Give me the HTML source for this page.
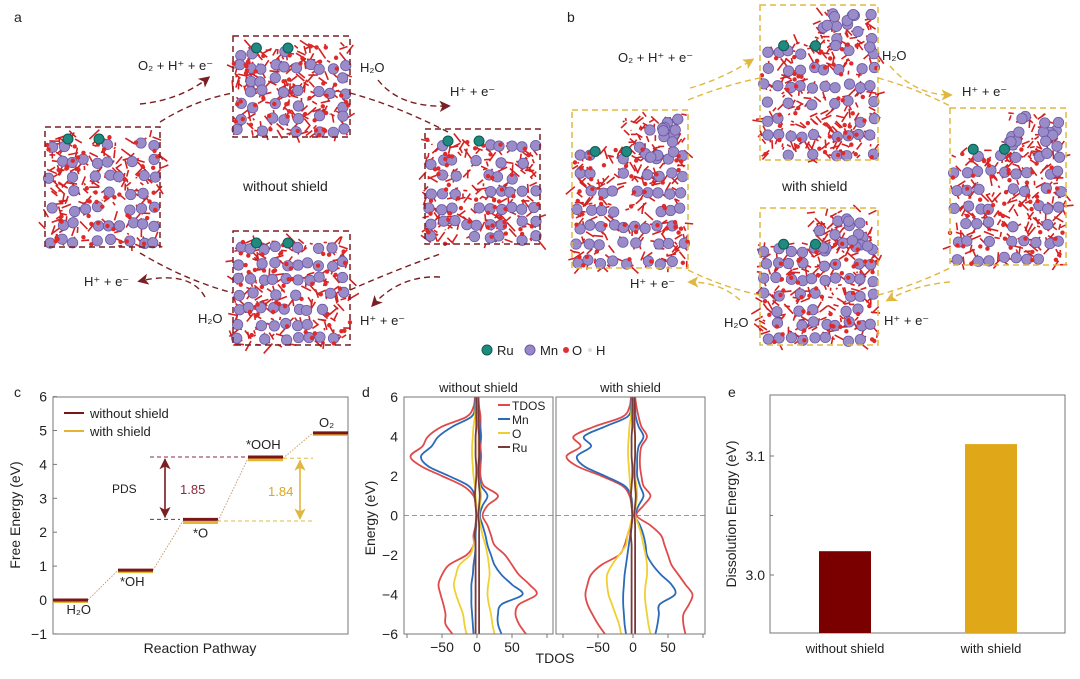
<!DOCTYPE html>
<html><head><meta charset="utf-8"><style>
body{margin:0;background:#fff}
svg text{font-family:"Liberation Sans",Arial,sans-serif;fill:#222}
</style></head><body>
<svg id="fig" width="1080" height="674" viewBox="0 0 1080 674" xmlns="http://www.w3.org/2000/svg">
<defs>
<marker id="arR" markerWidth="8" markerHeight="8" refX="6" refY="4" orient="auto"><path d="M0,0 L8,4 L0,8 L2,4z" fill="#7a1f22"/></marker>
<marker id="arY" markerWidth="8" markerHeight="8" refX="6" refY="4" orient="auto"><path d="M0,0 L8,4 L0,8 L2,4z" fill="#e0b840"/></marker>
</defs>
<g id="structs"></g>
<g font-size="13">
<text x="14" y="22" font-size="14">a</text>
<text x="138" y="70">O₂ + H⁺ + e⁻</text>
<text x="360" y="72">H₂O</text>
<text x="450" y="96">H⁺ + e⁻</text>
<text x="243" y="191" font-size="14">without shield</text>
<text x="84" y="286">H⁺ + e⁻</text>
<text x="198" y="323">H₂O</text>
<text x="360" y="325">H⁺ + e⁻</text>
<text x="567" y="22" font-size="14">b</text>
<text x="618" y="62">O₂ + H⁺ + e⁻</text>
<text x="882" y="60">H₂O</text>
<text x="962" y="96">H⁺ + e⁻</text>
<text x="782" y="191" font-size="14">with shield</text>
<text x="630" y="288">H⁺ + e⁻</text>
<text x="724" y="327">H₂O</text>
<text x="884" y="325">H⁺ + e⁻</text>
</g>
<g fill="none" stroke-width="1.4" stroke-dasharray="6,4">
<path d="M160,122 Q195,100 233,93" stroke="#7a1f22"/>
<path d="M140,104 Q180,100 208,78" stroke="#7a1f22" marker-end="url(#arR)"/>
<path d="M350,93 Q395,105 448,132" stroke="#7a1f22"/>
<path d="M378,80 Q400,108 448,106" stroke="#7a1f22" marker-end="url(#arR)"/>
<path d="M140,253 Q185,280 233,293" stroke="#7a1f22"/>
<path d="M205,297 Q190,270 140,281" stroke="#7a1f22" marker-end="url(#arR)"/>
<path d="M350,290 Q395,270 443,253" stroke="#7a1f22"/>
<path d="M440,277 Q400,275 373,305" stroke="#7a1f22" marker-end="url(#arR)"/>
<path d="M688,100 Q725,85 760,78" stroke="#e0b840"/>
<path d="M690,88 Q720,80 752,60" stroke="#e0b840" marker-end="url(#arY)"/>
<path d="M878,78 Q915,88 950,106" stroke="#e0b840"/>
<path d="M890,66 Q915,95 950,95" stroke="#e0b840" marker-end="url(#arY)"/>
<path d="M688,270 Q725,288 760,295" stroke="#e0b840"/>
<path d="M740,300 Q720,282 690,282" stroke="#e0b840" marker-end="url(#arY)"/>
<path d="M878,295 Q915,285 950,268" stroke="#e0b840"/>
<path d="M950,282 Q915,285 888,300" stroke="#e0b840" marker-end="url(#arY)"/>
</g>
<g font-size="13">
<circle cx="487" cy="350" r="5" fill="#1f8a80" stroke="#0d5a52"/><text x="497" y="355">Ru</text>
<circle cx="530" cy="350" r="5" fill="#9988c8" stroke="#6d5aa8"/><text x="540" y="355">Mn</text>
<circle cx="566" cy="350" r="3" fill="#e03030"/><text x="572" y="355">O</text>
<circle cx="590" cy="350" r="2" fill="#ddd"/><text x="596" y="355">H</text>
</g>
<g id="pc"></g>
<g id="pd"></g>
<g id="pe"></g>
</svg>
<script>
// ---- data ----
const stepLabels=["H₂O","*OH","*O","*OOH","O₂"];
const gWithout=[0,0.88,2.38,4.22,4.93];
const gWith=[0,0.88,2.33,4.18,4.93];
const pdsWithout="1.85", pdsWith="1.84";
const cYTicks=[-1,0,1,2,3,4,5,6];
const dosE=[6,5.5,5,4.5,4,3.5,3,2.5,2,1.5,1,0.5,0,-0.5,-1,-1.5,-2,-2.5,-3,-3.5,-4,-4.5,-5,-5.5,-6];
const woTdosN=[-3,-5,-15,-50,-70,-78,-95,-80,-50,-20,-5,-2,-1,-2,-5,-5,-15,-40,-50,-55,-52,-48,-45,-45,-35];
const woTdosP=[2,3,5,5,6,5,6,5,5,10,30,15,8,15,20,25,40,50,60,75,85,60,55,60,70];
const woMnN=[-2,-3,-8,-35,-55,-65,-80,-70,-40,-12,-3,-1,-1,-1,-2,-2,-3,-5,-6,-8,-8,-8,-7,-6,-5];
const woMnP=[1,2,3,4,5,3,4,3,3,6,15,8,4,8,12,15,20,25,35,50,65,35,30,30,35];
const woON=[-1,-2,-3,-5,-6,-7,-7,-6,-5,-3,-2,-1,-1,-2,-3,-5,-10,-25,-30,-33,-30,-25,-20,-18,-15];
const woOP=[1,1,2,2,2,2,2,2,2,4,6,4,3,5,8,12,15,17,18,16,15,17,20,22,25];
const wiTdosN=[-3,-5,-15,-55,-85,-75,-95,-80,-45,-15,-5,-2,-1,-3,-8,-12,-20,-45,-60,-65,-68,-65,-58,-50,-40];
const wiTdosP=[3,5,8,12,20,12,10,10,12,15,25,15,5,25,40,45,50,55,65,75,85,80,72,72,75];
const wiMnN=[-2,-3,-8,-40,-70,-60,-80,-70,-40,-12,-3,-1,-1,-2,-4,-6,-8,-10,-12,-13,-14,-14,-13,-12,-10];
const wiMnP=[2,3,4,8,15,8,6,6,6,10,15,8,3,10,15,18,20,28,40,55,60,38,37,35,32];
const wiON=[-1,-2,-3,-5,-6,-7,-7,-6,-5,-4,-3,-2,-1,-4,-8,-10,-20,-30,-37,-37,-35,-30,-25,-20,-17];
const wiOP=[1,1,2,3,3,3,3,3,3,5,6,4,3,8,12,15,18,20,20,18,17,18,20,22,25];
const ruN=[-1,-1,-1,-1,-2,-2,-2,-1,-1,-2,-3,-2,-1,-2,-3,-2,-2,-2,-2,-2,-2,-2,-2,-2,-2];
const ruP=[2,2,2,2,3,3,3,2,2,3,4,3,2,3,3,3,3,3,3,3,3,3,3,3,3];
const dXTicks=[-50,0,50];
const dYTicks=[-6,-4,-2,0,2,4,6];
const eCats=["without shield","with shield"];
const eVals=[3.02,3.11];
const eTicks=[3.0,3.1];

const NS="http://www.w3.org/2000/svg";
function mk(tag,attrs,parent,txt){const e=document.createElementNS(NS,tag);for(const k in attrs)e.setAttribute(k,attrs[k]);if(txt!==undefined)e.textContent=txt;parent.appendChild(e);return e;}
function smooth(pts){let d='M'+pts[0][0].toFixed(1)+','+pts[0][1].toFixed(1);for(let i=0;i<pts.length-1;i++){const p0=pts[Math.max(0,i-1)],p1=pts[i],p2=pts[i+1],p3=pts[Math.min(pts.length-1,i+2)];const c1=[p1[0]+(p2[0]-p0[0])/6,p1[1]+(p2[1]-p0[1])/6],c2=[p2[0]-(p3[0]-p1[0])/6,p2[1]-(p3[1]-p1[1])/6];d+=' C'+c1[0].toFixed(1)+','+c1[1].toFixed(1)+' '+c2[0].toFixed(1)+','+c2[1].toFixed(1)+' '+p2[0].toFixed(1)+','+p2[1].toFixed(1);}return d;}

// ---- structures (decorative) ----
let seed=7;function rnd(){seed=(seed*9301+49297)%233280;return seed/233280;}
const S=document.getElementById('structs');
function slab(x,y,w,h,col,topRough,name){
  const g=mk('g',{},S);
  
  
  const top=y+(topRough?h*0.25:10);
  for(let i=0;i<200;i++){const x1=x+rnd()*w,y1=top+rnd()*(y+h-top);mk('line',{x1:x1,y1:y1,x2:x1+(rnd()-0.5)*20,y2:y1+(rnd()-0.5)*20,stroke:'#d42020','stroke-width':1.6},g);}
  if(topRough){for(let i=0;i<60;i++){const x1=x+w*0.45+rnd()*w*0.5,y1=y+4+rnd()*h*0.3;mk('line',{x1:x1,y1:y1,x2:x1+(rnd()-0.5)*16,y2:y1+(rnd()-0.5)*16,stroke:'#d42020','stroke-width':1.6},g);}}
  for(let r=0;r<7;r++)for(let c=0;c<10;c++){const cx=x+6+c*(w-12)/9+(rnd()-0.5)*5,cy=top+8+r*(y+h-top-14)/6+(rnd()-0.5)*5;if(rnd()<0.7)mk('circle',{cx:cx,cy:cy,r:5.2,fill:'#9a8bc9',stroke:'#6b5aa6','stroke-width':0.8},g);}
  if(topRough){for(let i=0;i<16;i++){const cx=x+w*0.5+rnd()*w*0.45,cy=y+8+rnd()*h*0.25;mk('circle',{cx:cx,cy:cy,r:5.2,fill:'#9a8bc9',stroke:'#6b5aa6','stroke-width':0.8},g);}}
  for(let i=0;i<50;i++)mk('circle',{cx:x+rnd()*w,cy:top+rnd()*(y+h-top),r:2.2,fill:'#e02a2a'},g);
  mk('circle',{cx:x+w*0.2,cy:top+2,r:5,fill:'#1f8a80',stroke:'#0d5a52'},g);
  mk('circle',{cx:x+w*0.47,cy:top+2,r:5,fill:'#1f8a80',stroke:'#0d5a52'},g);
  mk('rect',{x:x,y:y,width:w,height:h,fill:'none',stroke:col,'stroke-width':1.5,'stroke-dasharray':'6,4'},g);
}
const R='#7a1f22',Y='#e0b840';
slab(233,36,117,101,R,false,'slab-a-top');slab(45,127,115,120,R,false,'slab-a-left');
slab(425,129,115,115,R,false,'slab-a-right');slab(233,231,117,114,R,false,'slab-a-bottom');
slab(572,110,116,158,Y,true,'slab-b-left');slab(760,5,118,155,Y,true,'slab-b-top');
slab(950,108,116,157,Y,true,'slab-b-right');slab(760,208,118,137,Y,true,'slab-b-bottom');

// ---- panel c ----
(function(){
const g=document.getElementById('pc');
const X0=53,X1=348,Yt=397,Yb=634;
const ys=v=>600-v*33.9;
const xs=i=>53+i*65;
mk('text',{x:14,y:397,'font-size':14},g,'c');
mk('rect',{x:X0,y:Yt,width:X1-X0,height:Yb-Yt,fill:'none',stroke:'#777','stroke-width':1},g);
cYTicks.forEach(t=>{const y=ys(t);mk('line',{x1:X0,y1:y,x2:X0+4,y2:y,stroke:'#777'},g);mk('text',{x:X0-6,y:y+5,'font-size':14,'text-anchor':'end'},g,t<0?'−'+(-t):t);});
mk('text',{x:20,y:515,'font-size':14,'text-anchor':'middle',transform:'rotate(-90 20 515)'},g,'Free Energy (eV)');
mk('text',{x:200,y:653,'font-size':14,'text-anchor':'middle'},g,'Reaction Pathway');
for(let i=0;i<4;i++){const l=mk('line',{x1:xs(i)+35,y1:ys(gWith[i]),x2:xs(i+1),y2:ys(gWith[i+1]),stroke:'#c8a070','stroke-width':1,'stroke-dasharray':'1.5,1.5'},g);}
gWith.forEach((v,i)=>{const l=mk('line',{x1:xs(i),y1:ys(v)+1.5,x2:xs(i)+35,y2:ys(v)+1.5,stroke:'#e3b530','stroke-width':3},g);});
gWithout.forEach((v,i)=>{const l=mk('line',{x1:xs(i),y1:ys(v),x2:xs(i)+35,y2:ys(v),stroke:'#7a1518','stroke-width':3},g);});
const lp=[[xs(0)+38,ys(gWithout[0])+14],[xs(1)+2,ys(gWithout[1])+16],[xs(2)+10,ys(gWithout[2])+18],[xs(3)-2,ys(gWithout[3])-8],[xs(4)+6,ys(gWithout[4])-6]];
stepLabels.forEach((s,i)=>mk('text',{x:lp[i][0],y:lp[i][1],'font-size':13,'text-anchor':i==0?'end':'start'},g,s));
mk('line',{x1:150,y1:ys(gWithout[3]),x2:245,y2:ys(gWithout[3]),stroke:'#8a2a40','stroke-dasharray':'4,3'},g);
mk('line',{x1:150,y1:ys(gWithout[2]),x2:180,y2:ys(gWithout[2]),stroke:'#8a2a40','stroke-dasharray':'4,3'},g);
mk('line',{x1:283,y1:ys(gWith[3]),x2:313,y2:ys(gWith[3]),stroke:Y,'stroke-dasharray':'4,3'},g);
mk('line',{x1:217,y1:ys(gWith[2]),x2:313,y2:ys(gWith[2]),stroke:Y,'stroke-dasharray':'4,3'},g);
mk('line',{x1:165,y1:ys(gWithout[2])-2,x2:165,y2:ys(gWithout[3])+4,stroke:'#7a1f22','stroke-width':1.4,'marker-end':'url(#arR)'},g);
mk('line',{x1:165,y1:ys(gWithout[3])+2,x2:165,y2:ys(gWithout[2])-4,stroke:'#7a1f22','stroke-width':1.4,'marker-end':'url(#arR)'},g);
mk('line',{x1:300,y1:ys(gWith[2])-2,x2:300,y2:ys(gWith[3])+4,stroke:Y,'stroke-width':1.4,'marker-end':'url(#arY)'},g);
mk('line',{x1:300,y1:ys(gWith[3])+2,x2:300,y2:ys(gWith[2])-4,stroke:Y,'stroke-width':1.4,'marker-end':'url(#arY)'},g);
mk('text',{x:112,y:493,'font-size':12},g,'PDS');
mk('text',{x:180,y:494,'font-size':13,style:'fill:#8a2a40'},g,pdsWithout);
mk('text',{x:268,y:496,'font-size':13,style:'fill:#d8a820'},g,pdsWith);
mk('line',{x1:64,y1:413,x2:84,y2:413,stroke:'#7a1518','stroke-width':2},g);
mk('text',{x:90,y:418,'font-size':13},g,'without shield');
mk('line',{x1:64,y1:431,x2:84,y2:431,stroke:'#e3b530','stroke-width':2},g);
mk('text',{x:90,y:436,'font-size':13},g,'with shield');
})();

// ---- panel d ----
(function(){
const g=document.getElementById('pd');
const Yt=397,Yb=634;const ys=e=>397+(6-e)*(Yb-Yt)/12;
mk('text',{x:362,y:397,'font-size':14},g,'d');
mk('text',{x:375,y:518,'font-size':14,'text-anchor':'middle',transform:'rotate(-90 375 518)'},g,'Energy (eV)');
mk('text',{x:555,y:663,'font-size':14,'text-anchor':'middle'},g,'TDOS');
dYTicks.forEach(t=>mk('text',{x:398,y:ys(t)+5,'font-size':14,'text-anchor':'end'},g,t<0?'−'+(-t):t));
const panels=[{x0:404,x1:553,z:477,title:'without shield',d:[woTdosN,woTdosP,woMnN,woMnP,woON,woOP]},{x0:556,x1:705,z:633,title:'with shield',d:[wiTdosN,wiTdosP,wiMnN,wiMnP,wiON,wiOP]}];
const cols=['#e04a4a','#e04a4a','#2a6ab8','#2a6ab8','#f0d030','#f0d030'];
panels.forEach(p=>{
  const xs=v=>p.z+v*0.7;
  mk('text',{x:(p.x0+p.x1)/2,y:392,'font-size':13,'text-anchor':'middle'},g,p.title);
  mk('line',{x1:p.x0,y1:ys(0),x2:p.x1,y2:ys(0),stroke:'#999','stroke-dasharray':'5,3'},g);
  p.d.forEach((arr,k)=>{const l=mk('path',{d:smooth(arr.map((v,i)=>[xs(v),ys(dosE[i])])),fill:'none',stroke:cols[k],'stroke-width':1.8},g);});
  [ruN,ruP].forEach(arr=>{const l=mk('path',{d:smooth(arr.map((v,i)=>[xs(v),ys(dosE[i])])),fill:'none',stroke:'#7a3a3a','stroke-width':1.8},g);});
  mk('rect',{x:p.x0,y:Yt,width:p.x1-p.x0,height:Yb-Yt,fill:'none',stroke:'#777'},g);
  [-100,-50,0,50,100].forEach(t=>{const x=xs(t);if(x>p.x0&&x<p.x1)mk('line',{x1:x,y1:Yb,x2:x,y2:Yb+4,stroke:'#777'},g);});
  dXTicks.forEach(t=>mk('text',{x:xs(t),y:652,'font-size':14,'text-anchor':'middle'},g,t<0?'−'+(-t):t));
});
[['TDOS','#e04a4a'],['Mn','#2a6ab8'],['O','#f0d030'],['Ru','#7a3a3a']].forEach((l,i)=>{mk('line',{x1:498,y1:405+i*14,x2:510,y2:405+i*14,stroke:l[1],'stroke-width':2},g);mk('text',{x:512,y:410+i*14,'font-size':12},g,l[0]);});
})();

// ---- panel e ----
(function(){
const g=document.getElementById('pe');
const X0=770,X1=1065,Yt=395,Yb=633;const ys=v=>575-(v-3.0)*1190;
mk('text',{x:728,y:397,'font-size':14},g,'e');
mk('rect',{x:X0,y:Yt,width:X1-X0,height:Yb-Yt,fill:'none',stroke:'#777'},g);
eTicks.forEach(t=>{mk('line',{x1:X0,y1:ys(t),x2:X0+4,y2:ys(t),stroke:'#777'},g);mk('text',{x:X0-5,y:ys(t)+5,'font-size':14,'text-anchor':'end'},g,t.toFixed(1));});
mk('line',{x1:X0,y1:ys(3.05),x2:X0+3,y2:ys(3.05),stroke:'#777'},g);
mk('text',{x:736,y:514,'font-size':14,'text-anchor':'middle',transform:'rotate(-90 736 514)'},g,'Dissolution Energy (eV)');
const cx=[845,991],bc=['#7a0000','#e0a818'];
eVals.forEach((v,i)=>{const r=mk('rect',{x:cx[i]-26,y:ys(v),width:52,height:Yb-ys(v),fill:bc[i]},g);
mk('text',{x:cx[i],y:653,'font-size':13,'text-anchor':'middle'},g,eCats[i]);});
})();
</script>
</body></html>
